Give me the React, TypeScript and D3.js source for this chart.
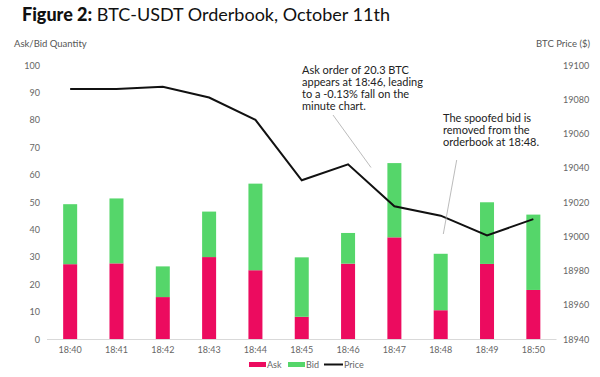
import React from "react";
import * as d3 from "d3";

const categories = ["18:40","18:41","18:42","18:43","18:44","18:45","18:46","18:47","18:48","18:49","18:50"];
const askValues = [27.3, 27.6, 15.3, 29.9, 25.1, 8.1, 27.5, 37.1, 10.5, 27.4, 17.9];
const bidValues = [21.9, 23.7, 11.2, 16.6, 31.6, 21.7, 11.2, 27.1, 20.6, 22.5, 27.5];
const priceValues = [19086, 19086, 19087.3, 19081, 19068, 19032.7, 19042, 19017.5, 19012, 19000.5, 19010];
const leftTicks = [0, 10, 20, 30, 40, 50, 60, 70, 80, 90, 100];
const rightTicks = [18940, 18960, 18980, 19000, 19020, 19040, 19060, 19080, 19100];
const annotation1 = ["Ask order of 20.3 BTC", "appears at 18:46, leading", "to a -0.13% fall on the", "minute chart."];
const annotation2 = ["The spoofed bid is", "removed from the", "orderbook at 18:48."];

const ASK = "#EC0B5F";
const BID = "#55D66A";
const FONT = "Lato, 'Open Sans', sans-serif";

export default function App() {
  const W = 600, H = 377;
  const top = 65, bottom = 339;
  const x = d3.scaleBand<string>().domain(categories).range([47, 556.5]).paddingInner(0.7).paddingOuter(0.35);
  const bw = 14;
  const cx = (c: string) => (x(c) as number) + x.bandwidth() / 2;
  const yL = d3.scaleLinear().domain([0, 100]).range([bottom, top]);
  const yR = d3.scaleLinear().domain([18940, 19100]).range([bottom, top]);
  const line = d3.line<number>().x((_, i) => cx(categories[i])).y(d => yR(d));

  return (
    <svg width={W} height={H} style={{ position: "absolute", left: 0, top: 0, background: "#fff" }} fontFamily={FONT}>
      <text x={22} y={21} fontSize={18} fill="#111">
        <tspan fontWeight={900}>Figure 2:</tspan>
        <tspan> BTC-USDT Orderbook, October 11th</tspan>
      </text>
      <text x={14} y={47} fontSize={9.5} fill="#555">Ask/Bid Quantity</text>
      <text x={590} y={47} fontSize={9.5} fill="#555" textAnchor="end">BTC Price ($)</text>

      {leftTicks.map(t => (
        <text key={t} x={40} y={yL(t) + 3.5} fontSize={9} fill="#666" textAnchor="end">{t}</text>
      ))}
      {rightTicks.map(t => (
        <text key={t} x={563} y={yR(t) + 3.5} fontSize={9} fill="#666">{t}</text>
      ))}

      <line x1={47} x2={556.5} y1={bottom + 0.5} y2={bottom + 0.5} stroke="#d9d9d9" />

      {categories.map((c, i) => (
        <g key={c}>
          <rect x={cx(c) - bw / 2} width={bw} y={yL(askValues[i])} height={yL(0) - yL(askValues[i])} fill={ASK} />
          <rect x={cx(c) - bw / 2} width={bw} y={yL(askValues[i] + bidValues[i])} height={yL(askValues[i]) - yL(askValues[i] + bidValues[i])} fill={BID} />
          <text x={cx(c)} y={353} fontSize={9} fill="#666" textAnchor="middle">{c}</text>
        </g>
      ))}

      <path d={line(priceValues) || ""} fill="none" stroke="#111" strokeWidth={2} />

      <line x1={333} y1={115} x2={371} y2={167.5} stroke="#aaa" strokeWidth={0.8} />
      <line x1={456.7} y1={160} x2={443.3} y2={234} stroke="#aaa" strokeWidth={0.8} />

      {annotation1.map((t, i) => (
        <text key={t} x={302} y={73.5 + i * 12.2} fontSize={11} fill="#222">{t}</text>
      ))}
      {annotation2.map((t, i) => (
        <text key={t} x={443} y={122 + i * 12.2} fontSize={11} fill="#222">{t}</text>
      ))}

      <rect x={249} y={362} width={17} height={5} fill={ASK} />
      <text x={267} y={368} fontSize={9} fill="#666">Ask</text>
      <rect x={288} y={362} width={17} height={5} fill={BID} />
      <text x={306} y={368} fontSize={9} fill="#666">Bid</text>
      <line x1={324} x2={343} y1={364.5} y2={364.5} stroke="#111" strokeWidth={2} />
      <text x={344} y={368} fontSize={9} fill="#666">Price</text>
    </svg>
  );
}
